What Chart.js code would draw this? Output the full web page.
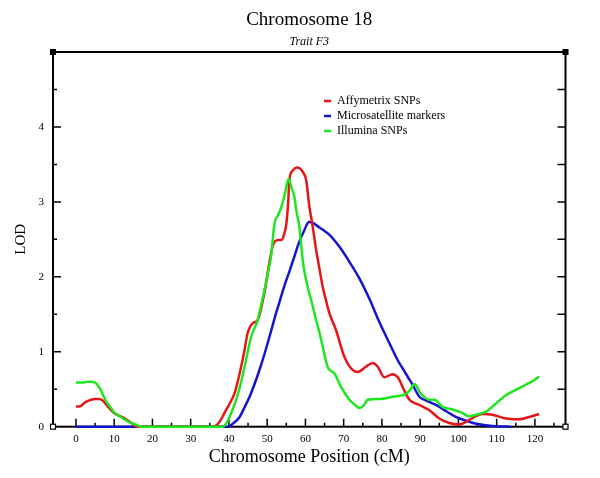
<!DOCTYPE html>
<html><head><meta charset="utf-8">
<script src="https://cdn.jsdelivr.net/npm/chart.js@4.4.1/dist/chart.umd.min.js"></script>
<style>html,body{margin:0;padding:0;background:#fff;}</style>
</head><body>
<canvas id="c" width="600" height="478"></canvas>
<script>
// ---- data ----
const seriesNames = ['Affymetrix SNPs', 'Microsatellite markers', 'Illumina SNPs'];

const affyPos = [0,1,2,3,4,5,6,7,8,9,10,12,14,16,20,30,35.8,37,38,39,40.2,41.5,42.8,44,44.9,46.2,47.5,48.6,49.7,50.6,51.5,52.8,53.7,54.5,55,55.5,55.8,56.7,57.7,58.5,59.3,60.2,61,61.9,62.8,63.7,64.5,65.4,66.3,68,69,70.2,71.9,73.7,75.8,77.6,78.9,80.6,82.8,84.4,85.5,87.2,89.8,92.4,95,97.6,100.2,102.8,104.5,106.3,108.9,112.4,115.9,118.5,121.1];
const affyLod = [0.27,0.27,0.31,0.34,0.36,0.37,0.37,0.35,0.29,0.23,0.18,0.13,0.07,0.0,0,0,0,0.03,0.1,0.2,0.31,0.45,0.71,1.0,1.25,1.38,1.42,1.62,1.91,2.2,2.42,2.49,2.49,2.58,2.7,3.0,3.29,3.42,3.46,3.45,3.40,3.29,2.95,2.67,2.36,2.1,1.87,1.68,1.51,1.29,1.12,0.93,0.78,0.73,0.80,0.85,0.80,0.66,0.70,0.64,0.52,0.36,0.29,0.22,0.11,0.05,0.03,0.09,0.14,0.17,0.16,0.11,0.10,0.13,0.17];

const microPos = [0,20,39.7,41,42.8,44,45.4,46.7,48,49.3,50.6,51.9,53.2,54.5,55.8,57.1,58.4,59.7,60.9,62,62.8,64.5,66.3,68.9,71.5,74.1,76.7,79.3,81.9,84.1,85.4,86.7,88,89.8,91.5,94.1,96.7,99.3,102,104.6,107.2,110,113.6];
const microLod = [0,0,0,0.04,0.13,0.25,0.40,0.57,0.76,0.97,1.20,1.44,1.66,1.88,2.07,2.27,2.47,2.62,2.73,2.72,2.69,2.63,2.56,2.40,2.20,1.98,1.71,1.40,1.12,0.89,0.78,0.67,0.56,0.40,0.35,0.29,0.21,0.13,0.08,0.04,0.02,0.005,0];

const illuPos = [0,1,2,3,4,5,6,6.5,7,8,9,10,12,14,16,17,30,38.4,39.5,40.5,41.9,43,44.1,45,45.8,47.5,48.4,49.3,50.2,51,51.9,52.8,53.7,54.6,55.6,56.3,57.1,57.6,58.4,59.3,60,61,61.5,62.8,63.7,64.5,65.8,66.3,67.6,69.3,71.5,73,74.1,75.2,76.3,79.3,82.8,86.3,87.5,88.5,90.2,92.4,93.7,95.9,98.5,100.7,102.8,105.4,107.2,109.8,112.4,115,117.6,119.8,121.1];
const illuLod = [0.59,0.59,0.59,0.60,0.60,0.59,0.53,0.49,0.43,0.33,0.26,0.19,0.12,0.06,0.02,0,0,0,0.06,0.17,0.36,0.56,0.80,1.02,1.2,1.42,1.62,1.82,2.05,2.27,2.71,2.82,2.93,3.1,3.31,3.2,3.07,2.89,2.67,2.22,2.0,1.78,1.69,1.42,1.25,1.07,0.80,0.76,0.71,0.53,0.36,0.29,0.25,0.28,0.36,0.37,0.40,0.44,0.50,0.57,0.44,0.36,0.36,0.26,0.23,0.19,0.14,0.17,0.20,0.31,0.42,0.49,0.56,0.62,0.67];

const xTickLabels = [0,10,20,30,40,50,60,70,80,90,100,110,120];
const xMinorTicks = [5,15,25,35,45,55,65,75,85,95,105,115,125];
const yTickLabels = [0,1,2,3,4];
const yMinorTicks = [0.5,1.5,2.5,3.5,4.5];

// ---- chart ----
const FONT = "'Liberation Serif', 'DejaVu Serif', serif";
const zip = (xs, ys) => xs.map((x, i) => ({x: x, y: ys[i]}));

const framePlugin = {
  id: 'frame',
  beforeDatasetsDraw(chart) {
    const {ctx, chartArea: a, scales: {x, y}} = chart;
    ctx.save();
    ctx.strokeStyle = '#000';
    ctx.lineWidth = 1.5;
    ctx.beginPath();
    xTickLabels.forEach(v => { const px = x.getPixelForValue(v); ctx.moveTo(px, a.bottom); ctx.lineTo(px, a.bottom - 8); });
    xMinorTicks.forEach(v => { const px = x.getPixelForValue(v); ctx.moveTo(px, a.bottom); ctx.lineTo(px, a.bottom - 4); });
    yTickLabels.slice(1).forEach(v => { const py = y.getPixelForValue(v); ctx.moveTo(a.left, py); ctx.lineTo(a.left + 8, py); ctx.moveTo(a.right, py); ctx.lineTo(a.right - 8, py); });
    yMinorTicks.forEach(v => { const py = y.getPixelForValue(v); ctx.moveTo(a.left, py); ctx.lineTo(a.left + 4, py); ctx.moveTo(a.right, py); ctx.lineTo(a.right - 8, py); });
    ctx.stroke();
    ctx.lineWidth = 2;
    ctx.strokeRect(a.left, a.top, a.right - a.left, a.bottom - a.top);
    ctx.fillStyle = '#000';
    ctx.fillRect(a.left - 3, a.top - 3, 6, 6);
    ctx.fillRect(a.right - 3, a.top - 3, 6, 6);
    ctx.lineWidth = 1.2;
    ctx.fillStyle = '#fff';
    ctx.fillRect(a.left - 2.5, a.bottom - 2.5, 5, 5);
    ctx.strokeRect(a.left - 2.5, a.bottom - 2.5, 5, 5);
    ctx.fillRect(a.right - 2.5, a.bottom - 2.5, 5, 5);
    ctx.strokeRect(a.right - 2.5, a.bottom - 2.5, 5, 5);
    ctx.restore();
  },
  afterDatasetsDraw(chart) {
    const {ctx, chartArea: a} = chart;
    ctx.save();
    ctx.font = "12px " + FONT;
    ctx.textBaseline = 'middle';
    ctx.textAlign = 'left';
    chart.data.datasets.forEach((ds, i) => {
      const yy = 101 + 15 * i;
      ctx.strokeStyle = ds.borderColor;
      ctx.lineWidth = 2.5;
      ctx.beginPath();
      ctx.moveTo(a.left + 271, yy);
      ctx.lineTo(a.left + 278, yy);
      ctx.stroke();
      ctx.fillStyle = '#000';
      ctx.fillText(ds.label, a.left + 284, yy);
    });
    ctx.restore();
  }
};

const colors = ['#e61616', '#1515d0', '#1ee61e'];

new Chart(document.getElementById('c'), {
  type: 'line',
  data: {
    datasets: [
      {label: seriesNames[0], data: zip(affyPos, affyLod), borderColor: colors[0], order: 2},
      {label: seriesNames[1], data: zip(microPos, microLod), borderColor: colors[1], order: 3},
      {label: seriesNames[2], data: zip(illuPos, illuLod), borderColor: colors[2], order: 1}
    ].map(d => Object.assign(d, {borderWidth: 2.5, pointRadius: 0, fill: false, clip: false, cubicInterpolationMode: 'monotone'}))
  },
  options: {
    responsive: false,
    animation: false,
    devicePixelRatio: 1,
    layout: {padding: {left: 0, right: 34.5, top: 0, bottom: 0}},
    plugins: {
      legend: {display: false},
      tooltip: {enabled: false},
      title: {display: true, fullSize: false, text: 'Chromosome 18', color: '#000',
        font: {family: FONT, size: 19, weight: 'normal', lineHeight: 1.2}, padding: {top: 8.6, bottom: 0}},
      subtitle: {display: true, fullSize: false, text: 'Trait F3', color: '#000',
        font: {family: FONT, size: 12, style: 'italic', weight: 'normal', lineHeight: 1.2}, padding: {top: 3.4, bottom: 2.8}}
    },
    scales: {
      x: {
        type: 'linear', min: -6, max: 128,
        grid: {display: false, drawTicks: false},
        border: {display: false},
        afterBuildTicks: s => { s.ticks = xTickLabels.map(v => ({value: v})); },
        afterFit: s => { s.height = 51.3; },
        ticks: {color: '#000', font: {family: FONT, size: 11}, padding: 6, maxRotation: 0, autoSkip: false},
        title: {display: true, text: 'Chromosome Position (cM)', color: '#000',
          font: {family: FONT, size: 18, lineHeight: 1.2}, padding: {top: 0, bottom: 10}}
      },
      y: {
        type: 'linear', min: 0, max: 5,
        grid: {display: false, drawTicks: false},
        border: {display: false},
        afterBuildTicks: s => { s.ticks = yTickLabels.map(v => ({value: v})); },
        afterFit: s => { s.width = 53; },
        ticks: {color: '#000', font: {family: FONT, size: 11}, padding: 9},
        title: {display: true, text: 'LOD', color: '#000',
          font: {family: FONT, size: 15, lineHeight: 1.2}, padding: {top: 11.7, bottom: 0}}
      }
    }
  },
  plugins: [framePlugin]
});
</script>
</body></html>
